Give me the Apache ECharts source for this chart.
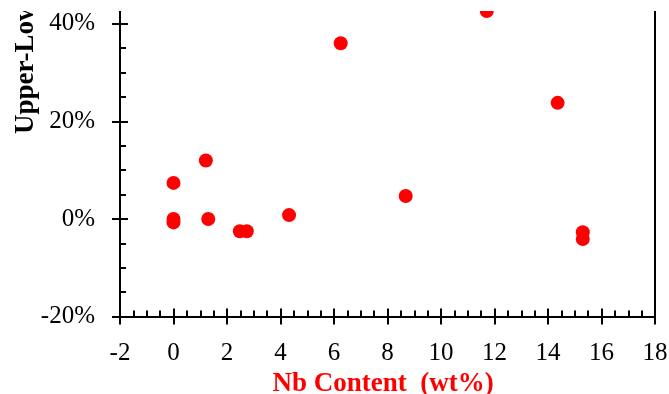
<!DOCTYPE html>
<html>
<head>
<meta charset="utf-8">
<script src="https://cdn.jsdelivr.net/npm/echarts@6/dist/echarts.min.js"></script>
<style>
  html, body { margin: 0; padding: 0; background: #ffffff; }
  #chart { position: absolute; left: 0; top: 11px; width: 669px; height: 383px; }
</style>
</head>
<body>
<div id="chart"></div>
<script>
// Nb content (wt%) of each sample
const nbContent = [0, 0, 0, 1.21, 1.30, 2.48, 2.74, 4.32, 6.25, 8.68, 11.71, 14.36, 15.30, 15.30];
// Upper-lower difference (%) of each sample
const upperLowerDiff = [7.4, 0.0, -0.7, 12.0, 0.0, -2.5, -2.5, 0.8, 36.0, 4.7, 42.6, 23.8, -2.7, -4.1];

const xTicks = { min: -2, max: 18, step: 2 };
const yTicks = { min: -20, max: 60, step: 20 };

const FONT = '"Liberation Serif", "Times New Roman", serif';
const INK = '#000000';
const RED = '#ff0000';

const points = nbContent.map((x, i) => [x, upperLowerDiff[i]]);

const chart = echarts.init(document.getElementById('chart'), null, { renderer: 'canvas' });

const baseX = {
  type: 'value',
  position: 'bottom',
  min: xTicks.min, max: xTicks.max, interval: xTicks.step,
  splitLine: { show: false }
};
const baseY = {
  type: 'value',
  min: yTicks.min, max: yTicks.max, interval: yTicks.step,
  splitLine: { show: false }
};

chart.setOption({
  animation: false,
  backgroundColor: '#ffffff',
  grid: {
    left: 120, right: 14, top: -84.8, bottom: 77.4,
    containLabel: false,
    outerBoundsMode: 'none'
  },
  xAxis: [
    Object.assign({}, baseX, {
      name: 'Nb Content  (wt%)',
      nameLocation: 'middle',
      nameGap: 46,
      nameTextStyle: { color: RED, fontWeight: 'bold', fontSize: 27, fontFamily: FONT, padding: [0, 9, 0, 0] },
      axisLine: { show: true, onZero: false, lineStyle: { color: INK, width: 2 } },
      axisTick: { show: true, inside: false, length: 8, lineStyle: { color: INK, width: 2 } },
      minorTick: { show: false },
      axisLabel: { color: INK, fontSize: 25, fontFamily: FONT, margin: 24 }
    }),
    Object.assign({}, baseX, {
      axisLine: { show: false, onZero: false },
      axisTick: { show: true, inside: true, length: 8, lineStyle: { color: INK, width: 2 } },
      minorTick: { show: true, splitNumber: 4, length: 6, lineStyle: { color: INK, width: 2 } },
      axisLabel: { show: false }
    })
  ],
  yAxis: [
    Object.assign({}, baseY, {
      position: 'left',
      axisLine: { show: true, onZero: false, lineStyle: { color: INK, width: 2 } },
      axisTick: { show: true, inside: false, length: 8, lineStyle: { color: INK, width: 2 } },
      minorTick: { show: false },
      axisLabel: { color: INK, fontSize: 25, fontFamily: FONT, margin: 25, formatter: v => v + '%' }
    }),
    Object.assign({}, baseY, {
      position: 'left',
      axisLine: { show: false, onZero: false },
      axisTick: { show: true, inside: true, length: 8, lineStyle: { color: INK, width: 2 } },
      minorTick: { show: true, splitNumber: 4, length: 6, lineStyle: { color: INK, width: 2 } },
      axisLabel: { show: false }
    }),
    Object.assign({}, baseY, {
      position: 'right',
      axisLine: { show: true, onZero: false, lineStyle: { color: INK, width: 2 } },
      axisTick: { show: false },
      axisLabel: { show: false }
    })
  ],
  graphic: [{
    type: 'text',
    x: 26, y: 123,
    rotation: Math.PI / 2,
    style: {
      text: 'Upper-Lower Difference',
      fontSize: 27, fontWeight: 'bold', fontFamily: FONT,
      fill: INK,
      align: 'left', verticalAlign: 'middle',
      textAlign: 'left', textVerticalAlign: 'middle'
    }
  }],
  series: [{
    type: 'scatter',
    xAxisIndex: 0, yAxisIndex: 0,
    data: points,
    symbol: 'circle',
    symbolSize: 14,
    itemStyle: { color: RED, opacity: 1 },
    clip: true
  }]
});
</script>
</body>
</html>
